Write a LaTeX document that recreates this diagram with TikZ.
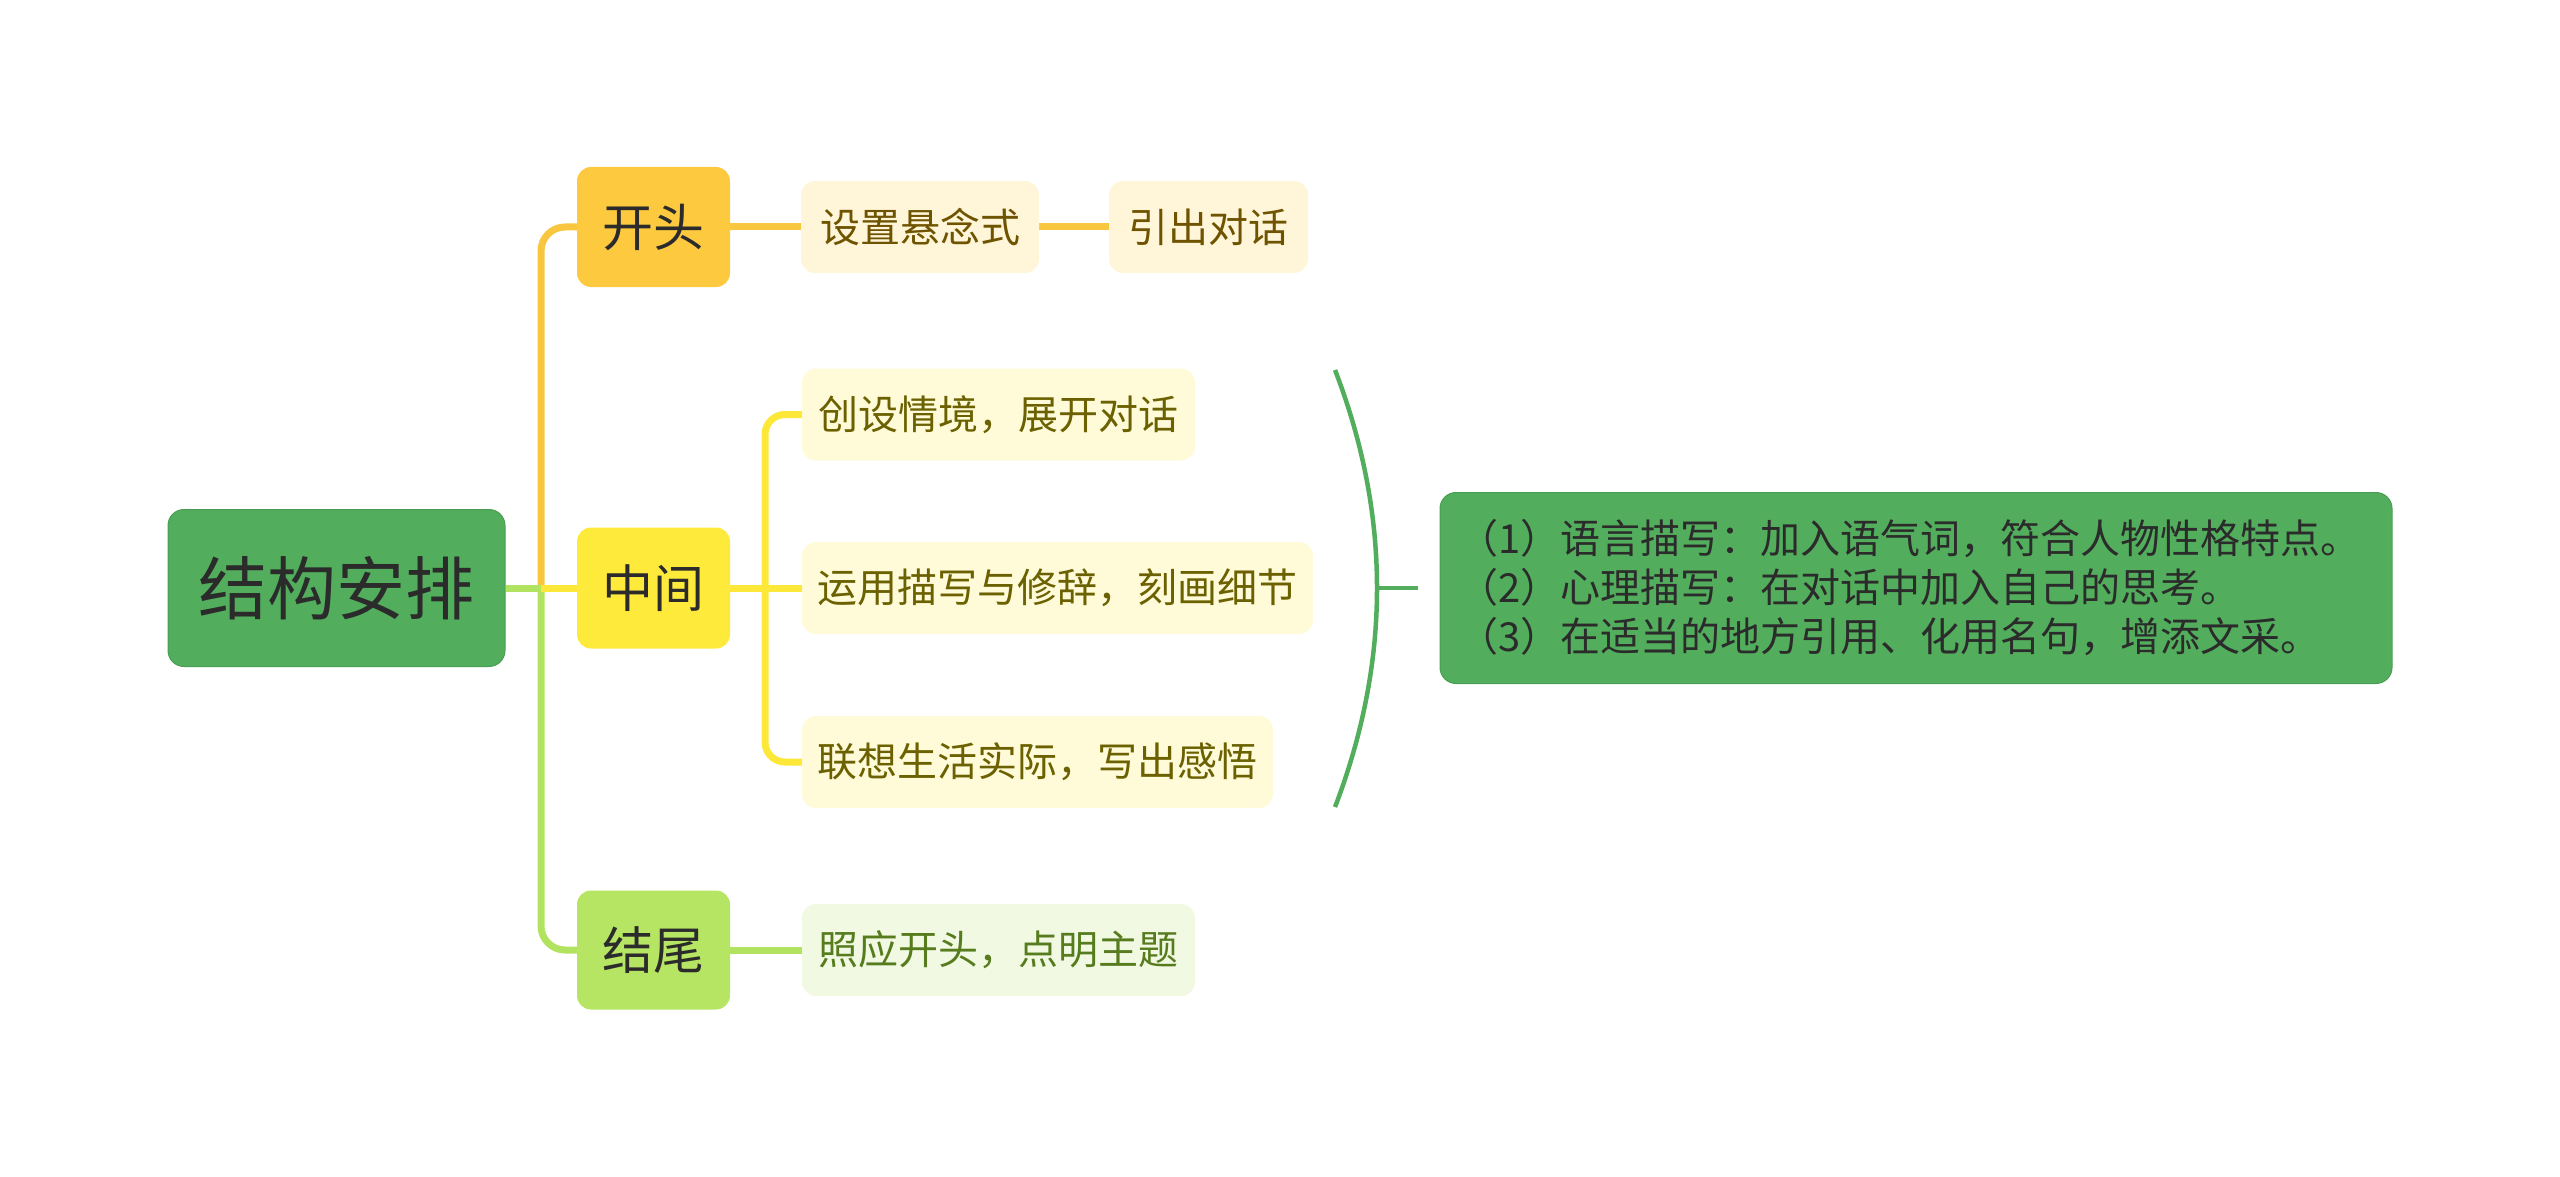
\documentclass[tikz,border=0pt]{standalone}
\usepackage{fontspec}
\usetikzlibrary{backgrounds}
\setmainfont{Noto Sans CJK SC}
\definecolor{rootfill}{HTML}{52AE5C}
\definecolor{rootdraw}{HTML}{4A9E53}
\definecolor{ktfill}{HTML}{FDC93F}
\definecolor{zjfill}{HTML}{FEEA3A}
\definecolor{jwfill}{HTML}{B5E562}
\definecolor{ktchild}{HTML}{FFF5D8}
\definecolor{zjchild}{HTML}{FFFAD8}
\definecolor{jwchild}{HTML}{F1F9E2}
\definecolor{kttext}{HTML}{6E5300}
\definecolor{zjtext}{HTML}{6B6100}
\definecolor{jwtext}{HTML}{567C1E}
\definecolor{orl}{HTML}{F9C73F}
\definecolor{yll}{HTML}{FDE83A}
\definecolor{lgl}{HTML}{B2E360}
\definecolor{darktext}{HTML}{2B2B2B}
\tikzset{
  rootbox/.style={rectangle, rounded corners=16pt, fill=rootfill, draw=rootdraw, line width=1pt, minimum width=337pt, minimum height=157pt, inner sep=0pt, text=darktext, font=\fontsize{69}{80}\selectfont},
  mainbox/.style={rectangle, rounded corners=14pt, inner sep=0pt, minimum width=153pt, minimum height=120pt, text=darktext, font=\fontsize{51}{60}\selectfont},
  childbox/.style={rectangle, rounded corners=14pt, inner sep=0pt, minimum height=92pt, font=\fontsize{40}{48}\selectfont},
  notebox/.style={rectangle, rounded corners=16pt, fill=rootfill, draw=rootdraw, line width=1pt, minimum width=952pt, minimum height=191pt, inner xsep=18pt, inner ysep=0pt, text width=916pt, align=left, text=darktext, font=\fontsize{40}{49}\selectfont},
  orline/.style={draw=orl, line width=7pt},
  ylline/.style={draw=yll, line width=7pt},
  lgline/.style={draw=lgl, line width=7pt},
  brline/.style={draw=rootfill, line width=4.5pt},
}
\begin{document}
\begin{tikzpicture}[x=1pt,y=-1pt]
\useasboundingbox (0,0) rectangle (2560,1177);
% nodes
\node[rootbox] (root) at (336.5,588) {结构安排};
\node[mainbox, fill=ktfill] (kt) at (653.5,227) {开头};
\node[mainbox, fill=zjfill, minimum height=121pt] (zj) at (653.5,588) {中间};
\node[mainbox, fill=jwfill, minimum height=119pt] (jw) at (653.5,950) {结尾};
\node[childbox, fill=ktchild, text=kttext, minimum width=238pt] (c1) at (920,227) {设置悬念式};
\node[childbox, fill=ktchild, text=kttext, minimum width=199pt] (c2) at (1208.5,227) {引出对话};
\node[childbox, fill=zjchild, text=zjtext, minimum width=393pt] (m1) at (998.5,414.5) {创设情境，展开对话};
\node[childbox, fill=zjchild, text=zjtext, minimum width=511pt] (m2) at (1057.5,588) {运用描写与修辞，刻画细节};
\node[childbox, fill=zjchild, text=zjtext, minimum width=471pt] (m3) at (1037.5,762) {联想生活实际，写出感悟};
\node[childbox, fill=jwchild, text=jwtext, minimum width=393pt] (e1) at (998.5,950) {照应开头，点明主题};
\node[notebox] (g) at (1916,588) {（1）语言描写：加入语气词，符合人物性格特点。\\（2）心理描写：在对话中加入自己的思考。\\（3）在适当的地方引用、化用名句，增添文采。};
\coordinate (t) at (541,588);
\coordinate (m) at (765,588);
\coordinate (bt) at (1335,370);
\coordinate (bb) at (1335,807);
\coordinate (bm) at (1377,588);
\coordinate (gt) at ([xshift=-22pt]g.west);
% connectors behind the boxes
\begin{pgfonlayer}{background}
\draw[orline, rounded corners=24pt] (t) |- (kt.west);
\draw[lgline, rounded corners=24pt] (t) |- (jw.west);
\draw[ylline] (t) -- (zj.west);
\draw[lgline] (root.east) -- (t);
\draw[ylline] (zj.east) -- (m2.west);
\draw[ylline, rounded corners=20pt] (m) |- (m1.west);
\draw[ylline, rounded corners=20pt] (m) |- (m3.west);
\draw[orline] (kt.east) -- (c1.west);
\draw[orline] (c1.east) -- (c2.west);
\draw[lgline] (jw.east) -- (e1.west);
\end{pgfonlayer}
% bracket
\draw[brline] (bt) .. controls (1391,515) and (1391,661) .. (bb);
\draw[brline] (bm) -- (gt);
\end{tikzpicture}
\end{document}
